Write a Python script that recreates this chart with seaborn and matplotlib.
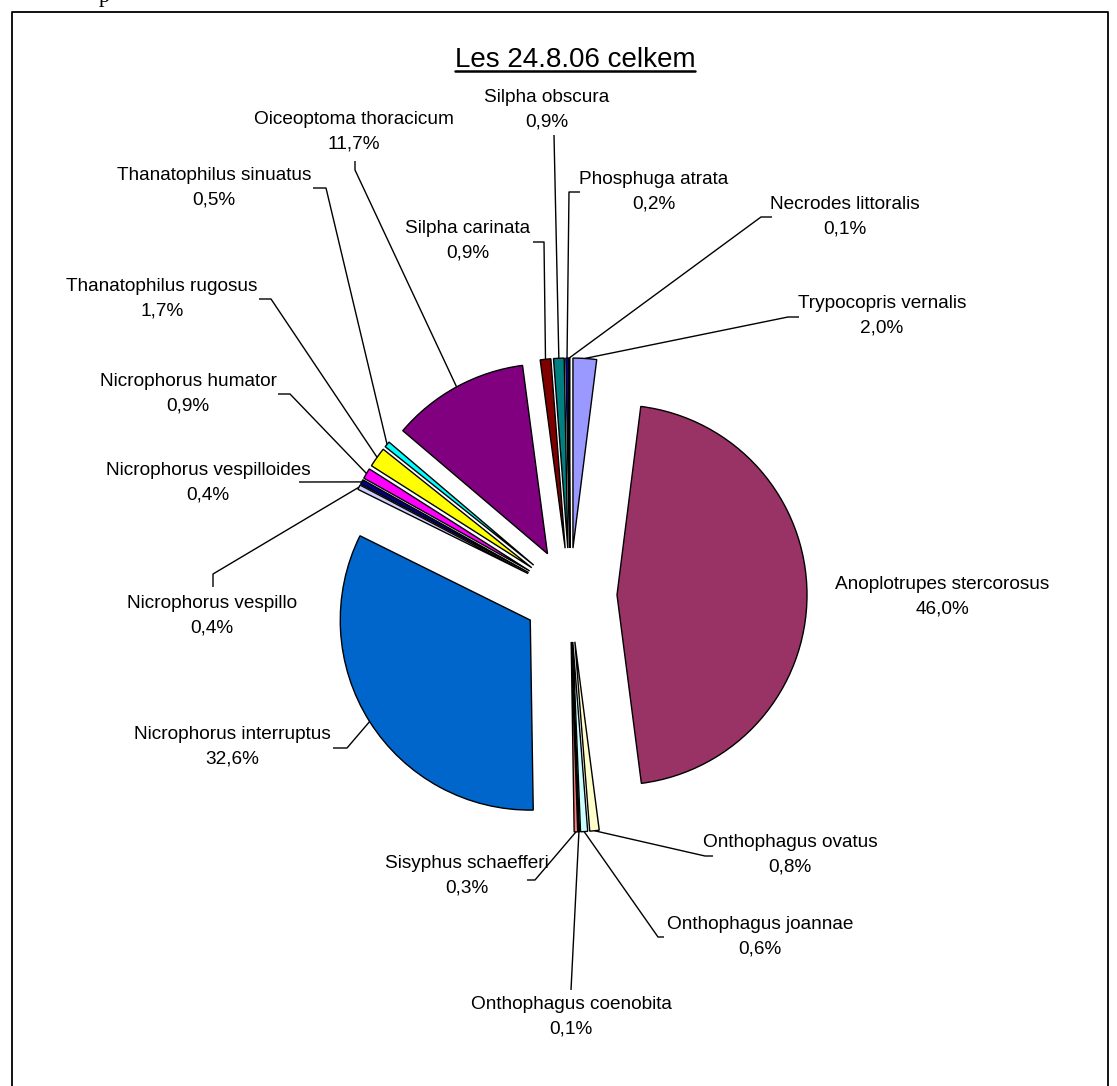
import matplotlib
matplotlib.use("Agg")
import numpy as np
import matplotlib.pyplot as plt
import seaborn as sns

# Species caught in the forest trap, in clockwise order from 12 o'clock
species = [
    "Trypocopris vernalis", "Anoplotrupes stercorosus", "Onthophagus ovatus",
    "Onthophagus joannae", "Onthophagus coenobita", "Sisyphus schaefferi",
    "Nicrophorus interruptus", "Nicrophorus vespillo", "Nicrophorus vespilloides",
    "Nicrophorus humator", "Thanatophilus rugosus", "Thanatophilus sinuatus",
    "Oiceoptoma thoracicum", "Silpha carinata", "Silpha obscura",
    "Phosphuga atrata", "Necrodes littoralis",
]
shares = [2.0, 46.0, 0.8, 0.6, 0.1, 0.3, 32.6, 0.4, 0.4, 0.9, 1.7, 0.5,
          11.7, 0.9, 0.9, 0.2, 0.1]
slice_colors = [
    "#9999FF", "#993366", "#FFFFCC", "#CCFFFF", "#660066", "#FF8080",
    "#0066CC", "#CCCCFF", "#000080", "#FF00FF", "#FFFF00", "#00FFFF",
    "#800080", "#800000", "#008080", "#0000FF", "#00CCFF",
]
title = "Les 24.8.06 celkem"

# Label layout in pixel coordinates (y measured from the top):
# text centre, then the label-side points of the leader line
label_layout = {
    "Trypocopris vernalis": ((882, 316), [(799, 317), (788, 317)]),
    "Anoplotrupes stercorosus": ((942, 597), []),
    "Onthophagus ovatus": ((790, 855), [(713, 856), (705, 856)]),
    "Onthophagus joannae": ((760, 937), [(664, 937), (658, 937)]),
    "Onthophagus coenobita": ((571, 1017), [(571, 990)]),
    "Sisyphus schaefferi": ((467, 876), [(527, 880), (535, 880)]),
    "Nicrophorus interruptus": ((232, 747), [(333, 748), (347, 748)]),
    "Nicrophorus vespillo": ((212, 616), [(213, 587), (213, 574)]),
    "Nicrophorus vespilloides": ((208, 483), [(299, 482), (303, 482)]),
    "Nicrophorus humator": ((188, 394), [(278, 394), (290, 394)]),
    "Thanatophilus rugosus": ((162, 299), [(259, 299), (271, 299)]),
    "Thanatophilus sinuatus": ((214, 188), [(313, 188), (326, 188)]),
    "Oiceoptoma thoracicum": ((354, 132), [(355, 161), (355, 170)]),
    "Silpha carinata": ((468, 241), [(533, 242), (544, 242)]),
    "Silpha obscura": ((547, 110), [(554, 135)]),
    "Phosphuga atrata": ((654, 192), [(580, 192), (569, 192)]),
    "Necrodes littoralis": ((845, 217), [(772, 217), (761, 217)]),
}

W, H = 1117, 1086
sns.set_theme(style="white")
plt.rcParams["font.family"] = ["Liberation Sans", "DejaVu Sans"]

fig = plt.figure(figsize=(W / 100, H / 100), dpi=100, facecolor="white")
ax = fig.add_axes([0, 0, 1, 1])


def Y(y):
    return H - y


pie_center = (570, Y(595))
pie_radius = 190
offset = 47

wedges, _ = ax.pie(
    shares, colors=slice_colors, startangle=90, counterclock=False,
    radius=pie_radius, center=pie_center, explode=[offset] * len(shares),
    wedgeprops=dict(edgecolor="black", linewidth=1.0),
)
ax.set_xlim(0, W)
ax.set_ylim(0, H)
ax.set_aspect("equal")
ax.axis("off")

font_size = 13.7
for name, val, w in zip(species, shares, wedges):
    (tx, ty), pts = label_layout[name]
    pct = f"{val:.1f}".replace(".", ",") + "%"
    ax.text(tx, Y(ty), f"{name}\n{pct}", ha="center", va="center",
            fontsize=font_size, color="black", linespacing=1.55)
    if pts:
        mid = np.deg2rad(0.5 * (w.theta1 + w.theta2))
        ax_, ay_ = w.center[0] + w.r * np.cos(mid), w.center[1] + w.r * np.sin(mid)
        xs = [p[0] for p in pts] + [ax_]
        ys = [Y(p[1]) for p in pts] + [ay_]
        ax.plot(xs, ys, color="black", linewidth=1.0, solid_capstyle="butt")

# Underlined chart title
t = ax.text(575, Y(67), title, ha="center", va="baseline", fontsize=20,
            color="black")
fig.canvas.draw()
bb = t.get_window_extent(fig.canvas.get_renderer())
ax.plot([bb.x0, bb.x1], [Y(71), Y(71)], color="black", linewidth=1.8)

# Chart area border
ax.plot([12, 12, 1108, 1108], [0, Y(12), Y(12), 0], color="black", linewidth=1.3,
        clip_on=False)

# Tail of the text line above the chart
ax.text(104, Y(2), "p", ha="center", va="baseline", fontsize=16,
        family="Liberation Serif", color="black")

fig.savefig("out.png", dpi=100, facecolor="white")
